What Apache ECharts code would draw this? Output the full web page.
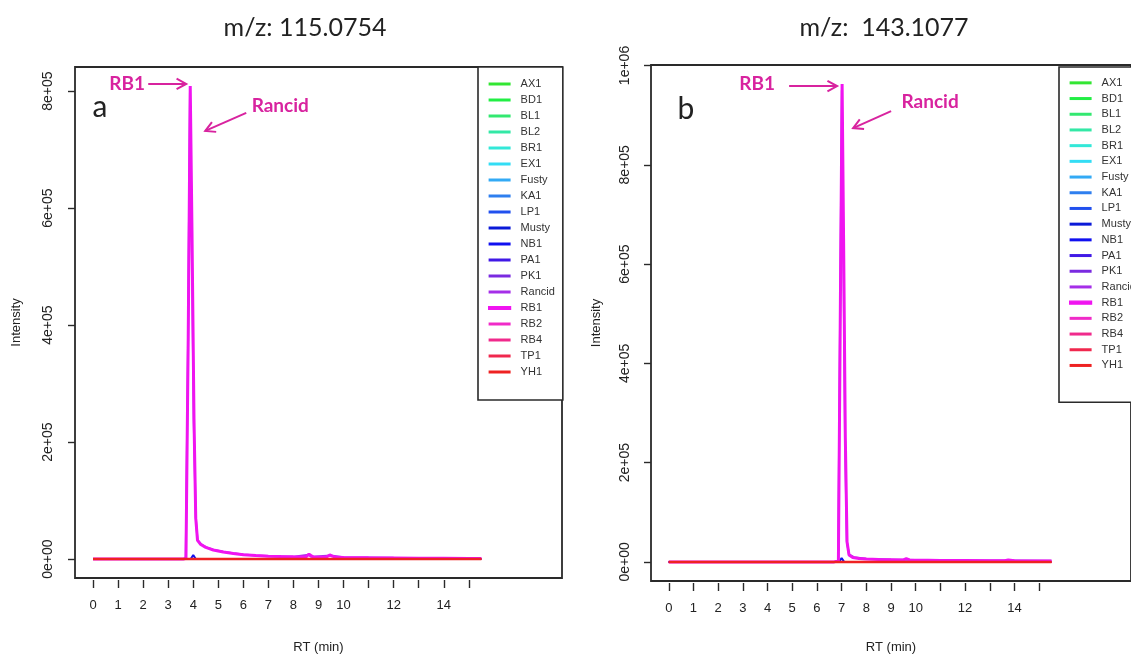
<!DOCTYPE html>
<html>
<head>
<meta charset="utf-8">
<script src="https://cdn.jsdelivr.net/npm/echarts@6/dist/echarts.min.js"></script>
<style>
  html, body { margin: 0; padding: 0; background: #fff; }
  #chart { width: 1131px; height: 659px; }
</style>
</head>
<body>
<div id="chart"></div>
<script>
// samples, in legend order (R draws them in this order, YH1 last / on top)
const sampleNames = ['AX1', 'BD1', 'BL1', 'BL2', 'BR1', 'EX1', 'Fusty', 'KA1', 'LP1', 'Musty',
  'NB1', 'PA1', 'PK1', 'Rancid', 'RB1', 'RB2', 'RB4', 'TP1', 'YH1'];
const sampleColors = ['#33e633', '#22ee44', '#33e870', '#33e8a6', '#33e8d8', '#33ddf5', '#33aaf5',
  '#2f7fef', '#2150ee', '#0b1ad8', '#1010f0', '#4019e6', '#7a2ae0', '#a52ee8', '#f014f0',
  '#f02ac8', '#f02a8c', '#f0284e', '#ee2222'];

const xTicks = [0, 1, 2, 3, 4, 5, 6, 7, 8, 9, 10, 11, 12, 13, 14, 15];
const xTickLabels = [0, 1, 2, 3, 4, 5, 6, 7, 8, 9, 10, 12, 14];
const yTicksA = [0, 200000, 400000, 600000, 800000];
const yTicksB = [0, 200000, 400000, 600000, 800000, 1000000];

// samples with no signal: flat at zero over the run
const flatRT = [0, 15.5];
const flatInt = [0, 0];

// panel a, m/z 115.0754
const rtA_RB1 = [0, 3.6, 3.71, 3.8, 3.88, 3.95, 4.03, 4.1, 4.17, 4.3, 4.5, 4.8, 5.2, 5.6, 6.0, 6.5, 7.0,
  7.5, 8.0, 8.5, 8.62, 8.7, 8.8, 9.3, 9.45, 9.55, 9.7, 10.0, 11.0, 12.0, 13.0, 14.0, 15.0, 15.5];
const intA_RB1 = [0, 0, 1500, 380000, 809000, 560000, 240000, 70000, 32000, 25000, 20000, 15500, 12000,
  9500, 7500, 6000, 5000, 4200, 3800, 3500, 8500, 6000, 3500, 3200, 7000, 5000, 3000, 2800, 2300, 2000,
  1600, 1300, 1000, 900];
const rtA_Rancid = [0, 3.6, 3.7, 3.79, 3.87, 3.94, 4.02, 4.1, 4.17, 4.3, 4.5, 4.8, 5.2, 5.6, 6.0, 6.5,
  7.0, 8.0, 8.6, 8.7, 9.5, 10.0, 12.0, 14.0, 15.5];
const intA_Rancid = [0, 0, 1500, 360000, 798000, 550000, 235000, 72000, 33000, 26000, 20500, 16000,
  12500, 10000, 8000, 6300, 5200, 4000, 7500, 4000, 6000, 3000, 2100, 1400, 1000];
const rtA_NB1 = [0, 3.9, 4.0, 4.1, 15.5];
const intA_NB1 = [0, 0, 7000, 0, 0];
const peakA = [3.88, 809000];

// panel b, m/z 143.1077
const rtB_RB1 = [0, 6.7, 6.87, 6.95, 7.02, 7.08, 7.15, 7.22, 7.3, 7.45, 7.7, 8.0, 8.5, 9.0, 9.5, 9.62,
  9.75, 10.0, 10.5, 11.0, 12.0, 13.0, 13.6, 13.75, 14.0, 15.0, 15.5];
const intB_RB1 = [0, 0, 2000, 520000, 962500, 650000, 250000, 40000, 14000, 9000, 7000, 6000, 5000,
  4500, 4000, 6500, 4000, 3500, 3500, 3000, 3000, 2500, 2500, 4000, 2500, 2000, 2000];
const rtB_Rancid = [0, 6.7, 6.86, 6.94, 7.01, 7.07, 7.14, 7.21, 7.3, 7.5, 8.0, 9.0, 10.0, 12.0, 14.0, 15.5];
const intB_Rancid = [0, 0, 2000, 500000, 950000, 640000, 245000, 42000, 15000, 9500, 6500, 5000, 4000,
  3200, 2600, 2200];
const rtB_NB1 = [0, 6.9, 7.0, 7.1, 15.5];
const intB_NB1 = [0, 0, 8000, 0, 0];
const peakB = [7.02, 962500];

const tickFont = 'Liberation Sans, Arial, sans-serif';
const calibriLike = 'Lato, Open Sans, sans-serif';
const annoColor = '#d8239f';
const frameColor = '#2a2a2a';

const pairs = (xs, ys) => xs.map((x, i) => [x, ys[i]]);

function panelSeries(idx, special) {
  return sampleNames.map((name, i) => {
    const s = special[name];
    return {
      name: name,
      type: 'line',
      xAxisIndex: idx,
      yAxisIndex: idx,
      symbol: 'none',
      silent: true,
      data: s ? pairs(s[0], s[1]) : pairs(flatRT, flatInt),
      lineStyle: { color: sampleColors[i], width: name === 'RB1' ? 3 : (name === 'YH1' ? 2.5 : 2) },
      itemStyle: { color: sampleColors[i] }
    };
  });
}

function sci(v) {
  if (v === 0) return '0e+00';
  const parts = v.toExponential(0).split('e');
  return parts[0] + 'e' + parts[1][0] + parts[1].slice(1).padStart(2, '0');
}

function makeX(idx, nameGap) {
  return {
    type: 'value', gridIndex: idx, min: -0.72, max: 18.72, offset: 2,
    axisLine: { show: false, onZero: false },
    axisTick: { show: true, length: 8, customValues: xTicks, lineStyle: { color: frameColor, width: 1.4 } },
    axisLabel: { customValues: xTickLabels, margin: 19, fontSize: 13, color: '#222', fontFamily: tickFont },
    splitLine: { show: false },
    name: 'RT (min)', nameLocation: 'middle', nameGap: nameGap,
    nameTextStyle: { fontSize: 13, color: '#222', fontFamily: tickFont }
  };
}

function makeY(idx, min, max, ticks, margin, nameGap) {
  return {
    type: 'value', gridIndex: idx, min: min, max: max,
    axisLine: { show: false, onZero: false },
    axisTick: { show: true, length: 7, customValues: ticks, lineStyle: { color: frameColor, width: 1.4 } },
    axisLabel: { customValues: ticks, rotate: 90, margin: margin, fontSize: 14, color: '#222',
      fontFamily: tickFont, formatter: sci },
    splitLine: { show: false },
    name: 'Intensity', nameLocation: 'middle', nameGap: nameGap,
    nameTextStyle: { fontSize: 13, color: '#222', fontFamily: tickFont }
  };
}

function makeLegend(left, top, lineH, padding) {
  return {
    orient: 'vertical', left: left, top: top,
    data: sampleNames.map((n, i) => n === 'RB1'
      ? { name: n, itemStyle: { borderWidth: 1.2, borderColor: sampleColors[i] } }
      : { name: n }),
    icon: 'rect', itemWidth: 22, itemHeight: 3, itemGap: 0,
    padding: padding,
    borderColor: frameColor, borderWidth: 1.6, backgroundColor: '#fff',
    selectedMode: false,
    itemStyle: { borderWidth: 0 },
    textStyle: { fontFamily: tickFont, fontSize: 11, color: '#333', lineHeight: lineH, padding: [0, 0, 0, 5] }
  };
}

const chart = echarts.init(document.getElementById('chart'), null, { renderer: 'canvas' });

chart.setOption({
  animation: false,
  backgroundColor: '#fff',
  grid: [
    { left: 75, top: 67, width: 487, height: 511, show: true, borderColor: frameColor, borderWidth: 1.8, backgroundColor: 'transparent' },
    { left: 651, top: 65, width: 490, height: 518, show: true, borderColor: frameColor, borderWidth: 1.8, backgroundColor: 'transparent' }
  ],
  xAxis: [makeX(0, 61), makeX(1, 58)],
  yAxis: [
    makeY(0, -32360, 841360, yTicksA, 20, 52),
    makeY(1, -38500, 1001000, yTicksB, 19, 48)
  ],
  legend: [
    makeLegend(478, 67, 16, [9, 8, 20, 10]),
    makeLegend(1059, 67, 15.7, [8, 8, 29, 10])
  ],
  series: panelSeries(0, { Rancid: [rtA_Rancid, intA_Rancid], RB1: [rtA_RB1, intA_RB1], NB1: [rtA_NB1, intA_NB1] })
    .concat(panelSeries(1, { Rancid: [rtB_Rancid, intB_Rancid], RB1: [rtB_RB1, intB_RB1], NB1: [rtB_NB1, intB_NB1] }))
});

// annotations: labels + arrows placed relative to each peak apex
function arrow(x0, y0, x1, y1) {
  const ang = Math.atan2(y1 - y0, x1 - x0);
  const h = 11, s = 0.5;
  return [
    { type: 'polyline', silent: true, shape: { points: [[x0, y0], [x1, y1]] }, style: { stroke: annoColor, lineWidth: 2 } },
    { type: 'polyline', silent: true, shape: { points: [
      [x1 - h * Math.cos(ang - s), y1 - h * Math.sin(ang - s)], [x1, y1],
      [x1 - h * Math.cos(ang + s), y1 - h * Math.sin(ang + s)]] },
      style: { stroke: annoColor, lineWidth: 2, fill: null } }
  ];
}
function label(text, x, y, font, color) {
  return { type: 'text', silent: true, x: x, y: y,
    style: { text: text, font: font, fill: color, align: 'center', verticalAlign: 'middle' } };
}

const pA = chart.convertToPixel({ gridIndex: 0 }, peakA);
const pB = chart.convertToPixel({ gridIndex: 1 }, peakB);
const annoFont = 'bold 19px ' + calibriLike;

chart.setOption({
  graphic: [
    label('m/z: 115.0754', 305, 28, '25px ' + calibriLike, '#222'),
    label('m/z:  143.1077', 884, 28, '25px ' + calibriLike, '#222'),
    label('a', 100, 107, '30px ' + calibriLike, '#222'),
    label('b', 686, 109, '30px ' + calibriLike, '#222'),
    label('RB1', pA[0] - 63, pA[1] - 2, annoFont, annoColor),
    label('Rancid', pA[0] + 90, pA[1] + 20, annoFont, annoColor),
    label('RB1', pB[0] - 85, pB[1], annoFont, annoColor),
    label('Rancid', pB[0] + 88, pB[1] + 18, annoFont, annoColor)
  ].concat(
    arrow(pA[0] - 42, pA[1] - 2, pA[0] - 4, pA[1] - 2),
    arrow(pA[0] + 56, pA[1] + 27, pA[0] + 15, pA[1] + 45),
    arrow(pB[0] - 53, pB[1] + 2, pB[0] - 5, pB[1] + 2),
    arrow(pB[0] + 49, pB[1] + 27, pB[0] + 11, pB[1] + 44)
  )
});
</script>
</body>
</html>
